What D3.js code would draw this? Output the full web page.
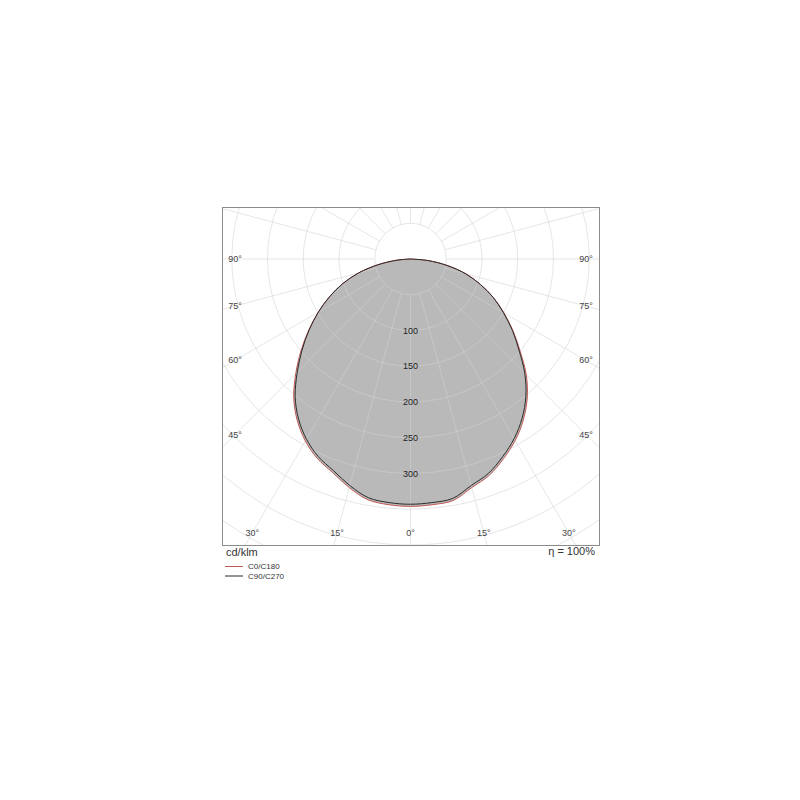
<!DOCTYPE html>
<html>
<head>
<meta charset="utf-8">
<script src="https://cdn.jsdelivr.net/npm/d3@7"></script>
<style>
  body { margin: 0; background: #fff; }
  text { font-family: "Liberation Sans", Arial, sans-serif; }
</style>
</head>
<body>
<script>
// gamma angles (deg from nadir), one half of the plane
let angles = [0, 5, 10, 15, 20, 25, 30, 35, 40, 45, 50, 55, 60, 65, 70, 75, 80, 85, 90]

// cd/klm
let c0 = [346, 345, 343, 331, 322, 308, 293, 275, 254, 229, 200, 175, 151, 128, 104, 80, 52, 24, 0]
let c180 = [346, 345, 342, 331, 318, 308, 294, 276, 254, 227, 200, 174, 149, 125, 101, 75, 46, 19, 0]
let c90 = [343, 342, 340, 328, 319, 305, 290, 272, 251, 226, 198, 174, 150, 128, 104, 80, 52, 24, 0]
let c270 = [343, 342, 339, 328, 315, 305, 291, 273, 251, 224, 198, 173, 149, 125, 101, 75, 46, 19, 0]

let rings = [50, 100, 150, 200, 250, 300, 350, 400, 450, 500]
let ringLabels = [100, 150, 200, 250, 300]
let spokes = d3.range(0, 360, 15)
let sideLabels = [90, 75, 60, 45]
let bottomLabels = [-30, -15, 0, 15, 30]

let width = 800, height = 800
let frame = { x: 222.5, y: 207.5, w: 377, h: 338 }
let cx = 410.5, cy = 259

let svg = d3.select('body')
  .append('svg')
  .attr('width', width)
  .attr('height', height)

let r = d3.scaleLinear().domain([0, 50]).range([0, 35.75])

svg.append('clipPath')
  .attr('id', 'frameClip')
  .append('rect')
  .attr('x', frame.x)
  .attr('y', frame.y)
  .attr('width', frame.w)
  .attr('height', frame.h)

let plot = svg.append('g')
  .attr('clip-path', 'url(#frameClip)')

let g = plot.append('g')
  .attr('transform', `translate(${cx}, ${cy})`)

// one closed outline: right half (a = pi - gamma), left half (a = pi + gamma)
function outline(right, left) {
  let pts = []
  for (let i = angles.length - 1; i >= 0; i--) {
    pts.push({ a: Math.PI - angles[i] * Math.PI / 180, v: right[i] })
  }
  for (let i = 1; i < angles.length; i++) {
    pts.push({ a: Math.PI + angles[i] * Math.PI / 180, v: left[i] })
  }
  return pts
}

let radial = d3.lineRadial()
  .angle(d => d.a)
  .radius(d => r(d.v))
  .curve(d3.curveCatmullRomClosed)

let redPts = outline(c0, c180)
let blackPts = outline(c90, c270)

g.append('path')
  .attr('d', radial(redPts))
  .attr('fill', '#b9b9b9')
g.append('path')
  .attr('d', radial(blackPts))
  .attr('fill', '#b9b9b9')

// grid over the fill
let grid = g.append('g')
  .attr('stroke', '#d2d2d2')
  .attr('stroke-opacity', 0.55)
  .attr('fill', 'none')

grid.selectAll('circle')
  .data(rings)
  .enter()
  .append('circle')
  .attr('r', d => r(d))

grid.selectAll('line')
  .data(spokes)
  .enter()
  .append('line')
  .attr('x1', d => r(50) * Math.sin(d * Math.PI / 180))
  .attr('y1', d => r(50) * Math.cos(d * Math.PI / 180))
  .attr('x2', d => r(700) * Math.sin(d * Math.PI / 180))
  .attr('y2', d => r(700) * Math.cos(d * Math.PI / 180))

g.append('path')
  .attr('d', radial(redPts))
  .attr('fill', 'none')
  .attr('stroke', '#c05a55')
  .attr('stroke-width', 1)
g.append('path')
  .attr('d', radial(blackPts))
  .attr('fill', 'none')
  .attr('stroke', '#2a2a2a')
  .attr('stroke-width', 1)

g.selectAll('.ringLabel')
  .data(ringLabels)
  .enter()
  .append('text')
  .attr('class', 'ringLabel')
  .attr('x', 0)
  .attr('y', d => r(d))
  .attr('dy', '0.35em')
  .attr('text-anchor', 'middle')
  .attr('font-size', '9px')
  .attr('fill', '#222')
  .text(d => d)

svg.append('rect')
  .attr('x', frame.x)
  .attr('y', frame.y)
  .attr('width', frame.w)
  .attr('height', frame.h)
  .attr('fill', 'none')
  .attr('stroke', '#8c8c8c')
  .attr('stroke-width', 1)

// angle labels where each spoke meets a box inset inside the frame
let inset = { left: 236, right: 586, bottom: 533 }

function labelPos(gamma) {
  let s = Math.sin(Math.abs(gamma) * Math.PI / 180)
  let c = Math.cos(gamma * Math.PI / 180)
  let tx = s > 1e-6 ? (inset.right - cx) / s : Infinity
  let ty = c > 1e-6 ? (inset.bottom - cy) / c : Infinity
  let t = Math.min(tx, ty)
  let sign = gamma < 0 ? -1 : 1
  return [cx + sign * t * s, cy + t * c]
}

let angleLabels = []
sideLabels.forEach(a => { angleLabels.push(-a); angleLabels.push(a) })
bottomLabels.forEach(a => angleLabels.push(a))

svg.selectAll('.angLabel')
  .data(angleLabels)
  .enter()
  .append('text')
  .attr('class', 'angLabel')
  .attr('x', d => labelPos(d)[0])
  .attr('y', d => labelPos(d)[1])
  .attr('dy', '0.35em')
  .attr('text-anchor', 'middle')
  .attr('font-size', '9px')
  .attr('fill', '#444')
  .text(d => Math.abs(d) + '°')

svg.append('text')
  .attr('x', 226)
  .attr('y', 556)
  .attr('font-size', '11px')
  .attr('fill', '#333')
  .text('cd/klm')

svg.append('text')
  .attr('x', 595)
  .attr('y', 555)
  .attr('text-anchor', 'end')
  .attr('font-size', '11px')
  .attr('fill', '#333')
  .text('η = 100%')

let legendItems = [
  { name: 'C0/C180', color: '#c05a55' },
  { name: 'C90/C270', color: '#2a2a2a' }
]

legendItems.forEach((item, i) => {
  let y = 566.5 + i * 9.5
  svg.append('line')
    .attr('x1', 225)
    .attr('x2', 243)
    .attr('y1', y)
    .attr('y2', y)
    .attr('stroke', item.color)
    .attr('stroke-width', 1)
  svg.append('text')
    .attr('x', 248)
    .attr('y', y)
    .attr('dy', '0.35em')
    .attr('font-size', '8px')
    .attr('fill', '#333')
    .text(item.name)
})
</script>
</body>
</html>
